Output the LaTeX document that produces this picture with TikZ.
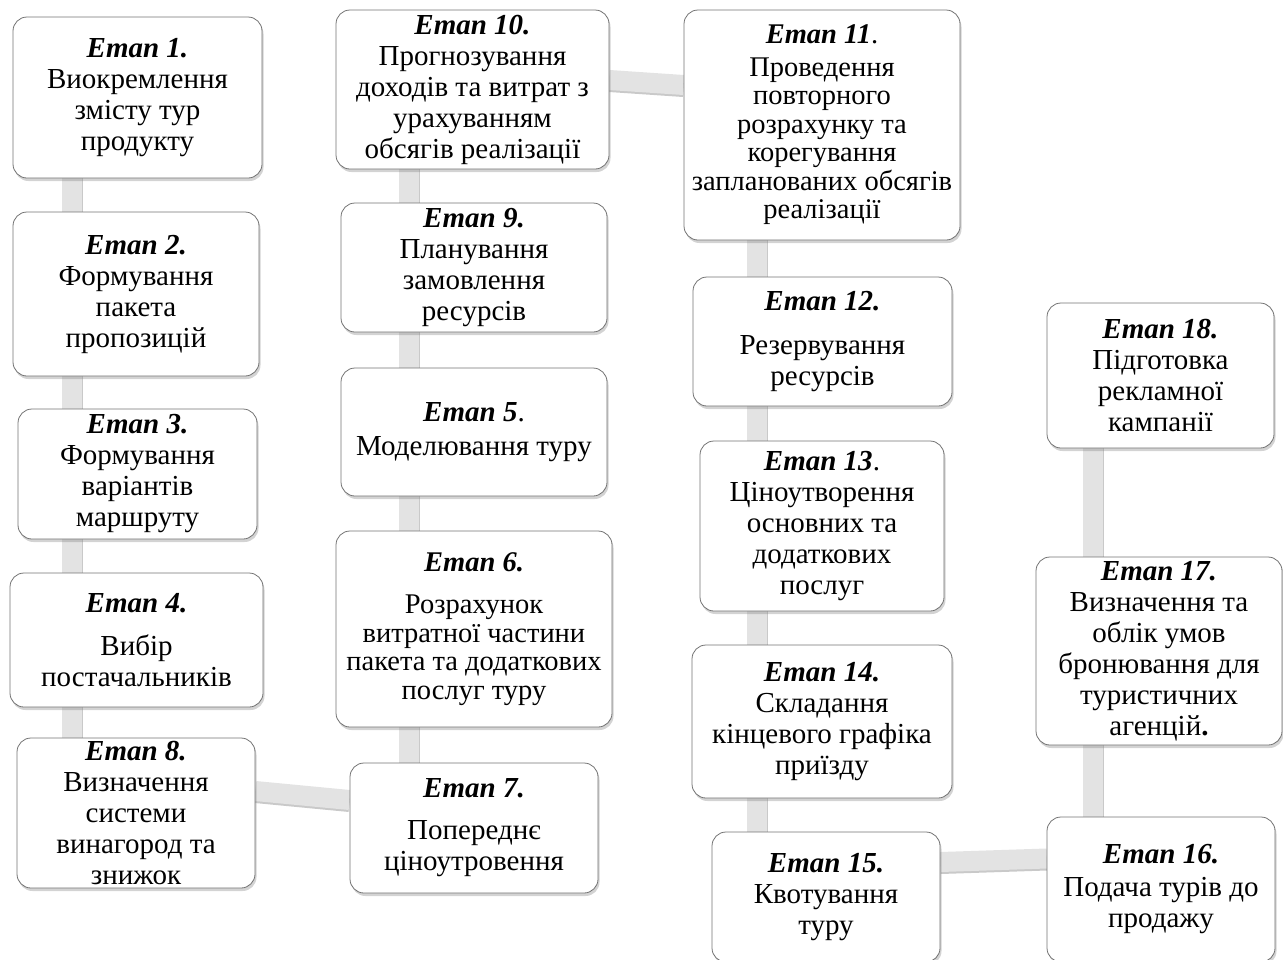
\documentclass[tikz,border=0pt]{standalone}
\usepackage{fontspec}
\setmainfont{Liberation Serif}
\usetikzlibrary{shadows,backgrounds,calc}
\newcommand\hd[1]{\textbf{\textit{#1}}}
\definecolor{barc}{HTML}{E3E3E3}
\definecolor{bars}{HTML}{C9C9C9}
\tikzset{
  stepbox/.style={draw=black!55, line width=0.8pt, fill=white, rounded corners=14pt,
    align=center, inner sep=0pt, font=\fontsize{29}{31}\selectfont,
    drop shadow={opacity=0.35, shadow xshift=1.5pt, shadow yshift=-3pt}},
  smallfont/.style={font=\fontsize{28.5}{28.5}\selectfont},
  barshadow/.style={line width=21pt, draw=bars, transform canvas={yshift=-1.5pt}},
  bar/.style={line width=20pt, draw=barc},
}
\begin{document}
\begin{tikzpicture}[x=1pt,y=-1pt]
\useasboundingbox (0,0) rectangle (1283,959);
% column 1
\node[stepbox, minimum width=249pt, minimum height=161pt] (n1) at (137.5,97.5)
  {\hd{Етап 1.}\\Виокремлення\\змісту тур\\продукту};
\node[stepbox, minimum width=246pt, minimum height=164pt] (n2) at (136,294)
  {\hd{Етап 2.}\\Формування\\пакета\\пропозицій};
\node[stepbox, minimum width=239pt, minimum height=130pt] (n3) at (137.5,474)
  {\hd{Етап 3.}\\Формування\\варіантів\\маршруту};
\node[stepbox, minimum width=253pt, minimum height=134pt] (n4) at (136.5,640)
  {\hd{Етап 4.}\\[12pt]Вибір\\постачальників};
\node[stepbox, minimum width=238pt, minimum height=150pt] (n8) at (136,813)
  {\hd{Етап 8.}\\Визначення\\системи\\винагород та\\знижок};
% column 2
\node[stepbox, minimum width=273pt, minimum height=159pt] (n10) at (472.5,89.5)
  {\hd{Етап 10.}\\Прогнозування\\доходів та витрат з\\урахуванням\\обсягів реалізації};
\node[stepbox, minimum width=266pt, minimum height=129pt] (n9) at (474,267.5)
  {\hd{Етап 9.}\\Планування\\замовлення\\ресурсів};
\node[stepbox, minimum width=266pt, minimum height=128pt] (n5) at (474,432)
  {\hd{Етап 5}.\\[3pt]Моделювання туру};
\node[stepbox, smallfont, minimum width=276pt, minimum height=196pt] (n6) at (474,629)
  {\hd{Етап 6.}\\[14pt]Розрахунок\\витратної частини\\пакета та додаткових\\послуг туру};
\node[stepbox, minimum width=248pt, minimum height=130pt] (n7) at (474,828)
  {\hd{Етап 7.}\\[11pt]Попереднє\\ціноутровення};
% column 3
\node[stepbox, smallfont, minimum width=276pt, minimum height=230pt] (n11) at (822,125)
  {\hd{Етап 11}.\\[4pt]Проведення\\повторного\\розрахунку та\\корегування\\запланованих обсягів\\реалізації};
\node[stepbox, minimum width=259pt, minimum height=129pt] (n12) at (822.5,341.5)
  {\hd{Етап 12.}\\[13pt]Резервування\\ресурсів};
\node[stepbox, minimum width=244pt, minimum height=170pt] (n13) at (822,526)
  {\hd{Етап 13}.\\Ціноутворення\\основних та\\додаткових\\послуг};
\node[stepbox, minimum width=260pt, minimum height=153pt] (n14) at (822,721.5)
  {\hd{Етап 14.}\\Складання\\кінцевого графіка\\приїзду};
\node[stepbox, minimum width=228pt, minimum height=130pt] (n15) at (826,897)
  {\hd{Етап 15.}\\Квотування\\туру};
% column 4
\node[stepbox, minimum width=228pt, minimum height=145pt] (n16) at (1161,889.5)
  {\hd{Етап 16.}\\[2pt]Подача турів до\\продажу};
\node[stepbox, minimum width=246pt, minimum height=188pt] (n17) at (1159,651)
  {\hd{Етап 17.}\\Визначення та\\облік умов\\бронювання для\\туристичних\\агенцій\textbf{.}};
\node[stepbox, minimum width=227pt, minimum height=145pt] (n18) at (1160.5,375.5)
  {\hd{Етап 18.}\\Підготовка\\рекламної\\кампанії};
% bar columns
\coordinate (c1) at (72,0);
\coordinate (c2) at (409,0);
\coordinate (c3) at (757,0);
\coordinate (c4) at (1093,0);
\begin{scope}[on background layer]
  \foreach \s in {barshadow,bar} {
    \draw[\s] (n1 -| c1) -- (n8 -| c1);
    \draw[\s] ([yshift=22pt]n8.east) -- ([yshift=28pt]n7.west);
    \draw[\s] (n7 -| c2) -- (n10 -| c2);
    \draw[\s] ([yshift=9.5pt]n10.east) -- ([yshift=40pt]n11.west);
    \draw[\s] (n11 -| c3) -- (n15 -| c3);
    \draw[\s] ([yshift=35pt]n15.east) -- ([yshift=31pt]n16.west);
    \draw[\s] (n16 -| c4) -- (n18 -| c4);
  }
\end{scope}
\end{tikzpicture}
\end{document}
